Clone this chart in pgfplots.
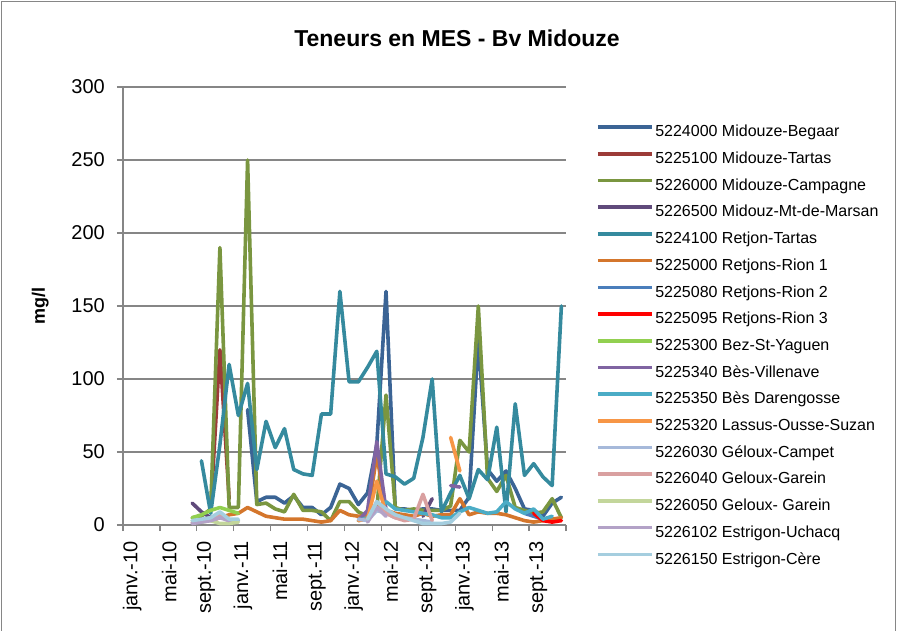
\documentclass[border=0pt]{standalone}
\usepackage{fontspec}
\setmainfont{Liberation Sans}
\usepackage{pgfplots}
\pgfplotsset{compat=1.18}
\definecolor{axgray}{HTML}{868686}
\definecolor{cA}{HTML}{3B6495}
\definecolor{cB}{HTML}{9C3B38}
\definecolor{cC}{HTML}{7A9640}
\definecolor{cD}{HTML}{604A7B}
\definecolor{cE}{HTML}{358A9E}
\definecolor{cF}{HTML}{D4762C}
\definecolor{cG}{HTML}{4A7EBB}
\definecolor{cH}{HTML}{FF0000}
\definecolor{cI}{HTML}{92D050}
\definecolor{cJ}{HTML}{8064A2}
\definecolor{cK}{HTML}{4BACC6}
\definecolor{cL}{HTML}{F79646}
\definecolor{cM}{HTML}{A6B9DA}
\definecolor{cN}{HTML}{D9A0A0}
\definecolor{cO}{HTML}{C3D69B}
\definecolor{cP}{HTML}{B3A2C7}
\definecolor{cQ}{HTML}{A5CEDF}
\begin{document}
\begin{tikzpicture}
\path[use as bounding box] (-123pt,-105pt) rectangle (774pt,525pt);
\draw[axgray, line width=1pt] (-121pt,-110pt) -- (-121pt,523pt) -- (772pt,523pt) -- (772pt,-110pt);
\begin{axis}[
  scale only axis, width=443pt, height=438pt,
  xmin=0, xmax=48, ymin=0, ymax=300,
  axis x line*=bottom, axis y line*=left,
  axis line style={draw=axgray, line width=1.2pt},
  unbounded coords=jump,
  ytick={0,50,...,300},
  ymajorgrids, grid style={draw=axgray, line width=1.2pt},
  tick align=outside,
  major tick length=6pt,
  major tick style={draw=axgray, line width=1.2pt},
  /pgf/number format/assume math mode=true,
  yticklabel style={font=\fontsize{20}{24}\selectfont, inner xsep=12pt},
  xtick={1,5,...,45},
  xticklabels={janv.-10,mai-10,sept.-10,janv.-11,mai-11,sept.-11,janv.-12,mai-12,sept.-12,janv.-13,mai-13,sept.-13},
  xticklabel style={rotate=90, anchor=east, font=\fontsize{20}{24}\selectfont, inner xsep=10pt, inner ysep=0pt},
  major x tick style={draw=none},
  extra x ticks={0,4,...,48},
  extra x tick labels={},
  extra x tick style={major x tick style={draw=axgray, line width=1.2pt}},
  ylabel={mg/l},
  ylabel style={at={(axis description cs:-0.187,0.5)}, anchor=center, rotate=0, font=\bfseries\fontsize{18}{22}\selectfont},
  title={Teneurs en MES - Bv Midouze},
  title style={at={(axis description cs:0.754,1.098)}, anchor=center, font=\bfseries\fontsize{23}{27}\selectfont},
  every axis plot/.append style={line width=3.6pt, line join=round, line cap=round, mark=none},
  legend cell align=left,
  legend image code/.code={\draw[#1, line cap=butt] (0pt,5.5pt) -- (54pt,5.5pt);},
  legend style={at={(axis description cs:1.0677,0.914)}, anchor=north west, draw=none, fill=none,
    font=\fontsize{16}{19}\selectfont, inner sep=0pt, row sep=11.2pt, column sep=1.5pt,
    nodes={inner sep=0pt, text height=12pt, text depth=3.5pt}},
  clip=false,
]
% 5224000 Midouze-Begaar
\addplot[cA] coordinates {(13.5,79) (14.5,16) (15.5,19) (16.5,19) (17.5,15) (18.5,20) (19.5,12) (20.5,12) (21.5,7) (22.5,12) (23.5,28) (24.5,25) (25.5,14) (26.5,22) (27.5,55) (28.5,160) (29.5,11) (30.5,11) (31.5,10) (32.5,11) (33.5,11) (34.5,10) (35.5,10) (36.5,10) (37.5,19) (38.5,127) (39.5,38) (40.5,30) (41.5,37) (42.5,25) (43.5,11) (44.5,10) (45.5,6) (46.5,15) (47.5,19)};
\addlegendentry{5224000 Midouze-Begaar}
% 5225100 Midouze-Tartas
\addplot[cB] coordinates {(9.5,10) (10.5,120) (11.5,18)};
\addlegendentry{5225100 Midouze-Tartas}
% 5226000 Midouze-Campagne
\addplot[cC] coordinates {(7.5,5) (8.5,6) (9.5,11) (10.5,190) (11.5,12) (12.5,12) (13.5,250) (14.5,14) (15.5,15) (16.5,11) (17.5,9) (18.5,21) (19.5,10) (20.5,10) (21.5,9) (22.5,3) (23.5,16) (24.5,16) (25.5,9) (26.5,6) (27.5,10) (28.5,89) (29.5,12) (30.5,10) (31.5,11) (32.5,10) (33.5,10) (34.5,10) (35.5,13) (36.5,58) (37.5,50) (38.5,150) (39.5,32) (40.5,23) (41.5,34) (42.5,12) (43.5,10) (44.5,8) (45.5,9) (46.5,18) (47.5,5)};
\addlegendentry{5226000 Midouze-Campagne}
% 5226500 Midouz-Mt-de-Marsan
\addplot[cD] coordinates {(7.5,15) (8.5,9) (9.5,5) (10,nan) (32.5,6) (33.5,18)};
\addlegendentry{5226500 Midouz-Mt-de-Marsan}
% 5224100 Retjon-Tartas
\addplot[cE] coordinates {(8.5,44) (9.5,8) (10.5,55) (11.5,110) (12.5,75) (13.5,97) (14.5,38) (15.5,71) (16.5,53) (17.5,66) (18.5,38) (19.5,35) (20.5,34) (21.5,76) (22.5,76) (23.5,160) (24.5,98) (25.5,98) (26.5,108) (27.5,119) (28.5,35) (29.5,33) (30.5,28) (31.5,32) (32.5,60) (33.5,100) (34.5,9) (35.5,22) (36.5,34) (37.5,18) (38.5,38) (39.5,31) (40.5,67) (41.5,9) (42.5,83) (43.5,34) (44.5,42) (45.5,33) (46.5,27) (47.5,150)};
\addlegendentry{5224100 Retjon-Tartas}
% 5225000 Retjons-Rion 1
\addplot[cF] coordinates {(9.5,3) (10.5,5) (11.5,7) (12.5,8) (13.5,12) (14.5,9) (15.5,6) (16.5,5) (17.5,4) (18.5,4) (19.5,4) (20.5,3) (21.5,2) (22.5,3) (23.5,10) (24.5,7) (25.5,6) (26.5,6) (27.5,48) (28.5,10) (29.5,8) (30.5,7) (31.5,6) (32.5,8) (33.5,6) (34.5,7) (35.5,7) (36.5,18) (37.5,7) (38.5,9) (39.5,8) (40.5,8) (41.5,7) (42.5,5) (43.5,3) (44.5,2) (45.5,3) (46.5,4) (47.5,5)};
\addlegendentry{5225000 Retjons-Rion 1}
% 5225080 Retjons-Rion 2
\addplot[cG] coordinates {(43.5,8) (44.5,6) (45.5,4)};
\addlegendentry{5225080 Retjons-Rion 2}
% 5225095 Retjons-Rion 3
\addplot[cH] coordinates {(44.5,8) (45.5,3) (46.5,2) (47.5,3)};
\addlegendentry{5225095 Retjons-Rion 3}
% 5225300 Bez-St-Yaguen
\addplot[cI] coordinates {(7.5,5) (8.5,7) (9.5,10) (10.5,12) (11.5,10) (12.5,8)};
\addlegendentry{5225300 Bez-St-Yaguen}
% 5225340 Bes-Villenave
\addplot[cJ] coordinates {(25.5,3) (26.5,10) (27.5,57) (28.5,10) (29,nan) (35.5,27) (36.5,26)};
\addlegendentry{5225340 Bès-Villenave}
% 5225350 Bes Darengosse
\addplot[cK] coordinates {(25.5,3) (26.5,5) (27.5,10) (28.5,16) (29.5,11) (30.5,10) (31.5,9) (32.5,8) (33.5,7) (34.5,5) (35.5,5) (36.5,9) (37.5,12) (38.5,10) (39.5,8) (40.5,9) (41.5,16) (42.5,11) (43.5,8) (44.5,11) (45.5,4) (46.5,6)};
\addlegendentry{5225350 Bès Darengosse}
% 5225320 Lassus-Ousse-Suzan
\addplot[cL] coordinates {(25.5,3) (26.5,4) (27.5,30) (28.5,8) (29,nan) (35.5,60) (36.5,37)};
\addlegendentry{5225320 Lassus-Ousse-Suzan}
% 5226030 Geloux-Campet
\addplot[cM] coordinates {(7.5,2) (8.5,2) (9.5,4) (10.5,8) (11.5,3) (12.5,3) (13,nan) (25.5,4) (26.5,3) (27.5,10) (28.5,8) (29.5,5) (30.5,5) (31.5,4) (32.5,3) (33.5,2)};
\addlegendentry{5226030 Géloux-Campet}
% 5226040 Geloux-Garein
\addplot[cN] coordinates {(7.5,2) (8.5,3) (9.5,5) (10.5,6) (11.5,3) (12,nan) (26.5,3) (27.5,16) (28.5,8) (29.5,5) (30.5,3) (31.5,4) (32.5,21) (33.5,3)};
\addlegendentry{5226040 Geloux-Garein}
% 5226050 Geloux- Garein
\addplot[cO] coordinates {(7.5,3) (8.5,2) (9.5,3) (10.5,1) (11.5,1) (12.5,2)};
\addlegendentry{5226050 Geloux- Garein}
% 5226102 Estrigon-Uchacq
\addplot[cP] coordinates {(7.5,1) (8.5,2) (9.5,3) (10.5,5) (11.5,3) (12,nan) (26.5,2) (27.5,12) (28.5,6)};
\addlegendentry{5226102 Estrigon-Uchacq}
% 5226150 Estrigon-Cere
\addplot[cQ] coordinates {(7.5,3) (8.5,4) (9.5,5) (10.5,9) (11.5,4) (12.5,4) (13,nan) (26.5,4) (27.5,16) (28.5,11) (29.5,7) (30.5,5) (31.5,3) (32.5,1) (33.5,1) (34.5,1) (35.5,2) (36.5,8)};
\addlegendentry{5226150 Estrigon-Cère}
\end{axis}
\end{tikzpicture}
\end{document}
